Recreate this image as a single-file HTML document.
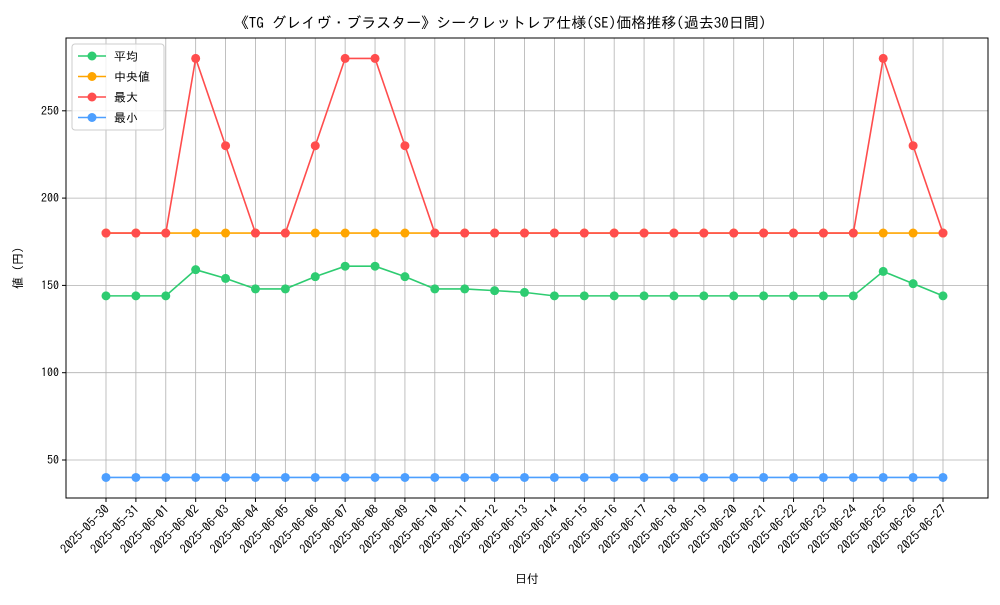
<!DOCTYPE html>
<html><head><meta charset="utf-8"><style>
body{margin:0;background:#fff;}
svg{font-family:"IPAGothic","Liberation Sans","Noto Sans CJK JP",sans-serif;}
</style></head><body>
<svg id="chart" width="1000" height="600" viewBox="0 0 1000 600">
<rect width="1000" height="600" fill="#fff"/>
<text x="500" y="28" text-anchor="middle" font-size="15" fill="#000">《TG グレイヴ・ブラスター》シークレットレア仕様(SE)価格推移(過去30日間)</text>
<g id="grid"></g>
<g id="series"></g>
<rect x="66" y="38" width="922" height="460" fill="none" stroke="#000" stroke-width="1"/>
<g id="axes"></g>
<text x="527" y="583" text-anchor="middle" font-size="12">日付</text>
<text transform="translate(22,268) rotate(-90)" text-anchor="middle" font-size="12">値 (円)</text>
<g id="legend">
<rect x="72" y="44" width="92" height="86" fill="#fff" fill-opacity="0.8" stroke="#ccc" rx="3"/>
</g>
</svg>
<script>
const dates=["2025-05-30","2025-05-31","2025-06-01","2025-06-02","2025-06-03","2025-06-04","2025-06-05","2025-06-06","2025-06-07","2025-06-08","2025-06-09","2025-06-10","2025-06-11","2025-06-12","2025-06-13","2025-06-14","2025-06-15","2025-06-16","2025-06-17","2025-06-18","2025-06-19","2025-06-20","2025-06-21","2025-06-22","2025-06-23","2025-06-24","2025-06-25","2025-06-26","2025-06-27"];
const avgVals=[144,144,144,159,154,148,148,155,161,161,155,148,148,147,146,144,144,144,144,144,144,144,144,144,144,144,158,151,144];
const medVals=[180,180,180,180,180,180,180,180,180,180,180,180,180,180,180,180,180,180,180,180,180,180,180,180,180,180,180,180,180];
const maxVals=[180,180,180,280,230,180,180,230,280,280,230,180,180,180,180,180,180,180,180,180,180,180,180,180,180,180,280,230,180];
const minVals=[40,40,40,40,40,40,40,40,40,40,40,40,40,40,40,40,40,40,40,40,40,40,40,40,40,40,40,40,40];
const yTicks=[50,100,150,200,250];
const seriesNames=["平均","中央値","最大","最小"];
const NS="http://www.w3.org/2000/svg";
const xs=i=>106+i*(943-106)/(dates.length-1);
const ys=v=>460-(v-50)*(87.3/50);
function mk(tag,attrs,parent){const e=document.createElementNS(NS,tag);for(const k in attrs)e.setAttribute(k,attrs[k]);parent.appendChild(e);return e;}
const grid=document.getElementById('grid'),axes=document.getElementById('axes'),ser=document.getElementById('series'),leg=document.getElementById('legend');
dates.forEach((d,i)=>{
 const x=xs(i);
 const g=mk('line',{x1:x,x2:x,y1:38,y2:498,stroke:'#b0b0b0','stroke-width':0.8},grid);
 
 
 mk('line',{x1:x,x2:x,y1:498,y2:502,stroke:'#000'},axes);
 const t=mk('text',{x:x+4,y:510,'font-size':12.5,'text-anchor':'end',transform:`rotate(-45 ${x+4} 510)`},axes);
 t.textContent=d;
 
 
});
yTicks.forEach(v=>{
 const y=ys(v);
 const g=mk('line',{x1:66,x2:988,y1:y,y2:y,stroke:'#b0b0b0','stroke-width':0.8},grid);
 
 
 mk('line',{x1:62,x2:66,y1:y,y2:y,stroke:'#000'},axes);
 const t=mk('text',{x:59,y:y+4,'font-size':12,'text-anchor':'end'},axes);
 t.textContent=v;
 
 
});
const all=[[avgVals,'series-average'],[medVals,'series-median'],[maxVals,'series-max'],[minVals,'series-min']];
const colors=['#2ecc71','#ffa500','#ff4d4d','#4d9fff'];
all.forEach(([vals,name],si)=>{
 const c=colors[si];
 const g=mk('g',{},ser);
 
 
 const p=mk('polyline',{points:vals.map((v,i)=>xs(i)+','+ys(v)).join(' '),fill:'none',stroke:c,'stroke-width':1.6},g);
 
 
 vals.forEach((v,i)=>{
  const m=mk('circle',{cx:xs(i),cy:ys(v),r:4.5,fill:c},g);
  
  
 });
 const ly=56+si*20.5;
 const le=mk('g',{},leg);
 
 
 mk('line',{x1:78,x2:106,y1:ly,y2:ly,stroke:c,'stroke-width':1.6},le);
 mk('circle',{cx:92,cy:ly,r:4.5,fill:c},le);
 const t=mk('text',{x:114,y:ly+4.5,'font-size':12},le);
 t.textContent=seriesNames[si];
});
</script>
</body></html>
